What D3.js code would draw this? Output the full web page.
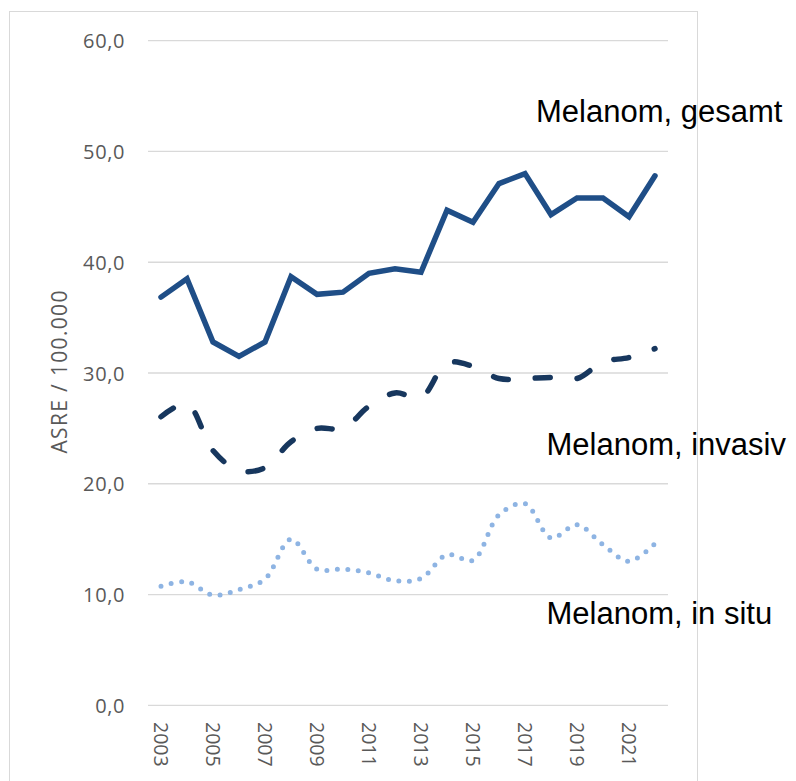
<!DOCTYPE html>
<html><head><meta charset="utf-8">
<script src="https://cdn.jsdelivr.net/npm/d3@7"></script>
<style>body{margin:0;background:#fff}svg{display:block}</style>
</head><body><svg id="c" width="796" height="781"></svg>
<script>
const years = d3.range(2003, 2023).map(String);
const gesamt = [36.85,38.5,32.8,31.5,32.8,38.7,37.1,37.3,39.0,39.4,39.1,44.7,43.6,47.1,48.0,44.3,45.8,45.8,44.1,47.8];
const invasiv = [26.05,27.2,23.0,21.2,21.45,23.8,25.0,25.0,27.0,28.2,27.8,30.9,30.6,29.5,29.5,29.6,29.5,31.0,31.4,32.2];
const inSitu = [10.75,11.15,9.95,10.45,11.4,15.0,12.3,12.3,11.95,11.25,11.45,13.6,13.1,17.2,18.2,15.1,16.3,14.5,13.0,14.6];
const yTicks = [0,10,20,30,40,50,60];
const seriesNames = ["Melanom, gesamt","Melanom, invasiv","Melanom, in situ"];

const svg = d3.select("#c");
svg.append("rect").attr("x",9.5).attr("y",11.5).attr("width",688).attr("height",800)
  .attr("fill","none").attr("stroke","#D9D9D9").attr("stroke-width",1);

const x = d3.scaleBand().domain(years).range([148,668]);
const y = d3.scaleLinear().domain([0,60]).range([705.3,40.7]);
const cx = d => x(d) + x.bandwidth()/2;

svg.append("g").selectAll("line").data(yTicks).join("line")
  .attr("x1",148).attr("x2",668).attr("y1",d=>y(d)).attr("y2",d=>y(d))
  .attr("stroke","#D9D9D9").attr("stroke-width",1.3);

const fmt = d => d.toFixed(1).replace(".",",");
const yAxis = d3.axisLeft(y).tickValues(yTicks).tickFormat(fmt).tickSize(0).tickPadding(0);
const gy = svg.append("g").attr("transform","translate(125,0)").call(yAxis);
gy.select(".domain").remove();
gy.selectAll("text").attr("font-family","'Open Sans', sans-serif").attr("font-size",20)
  .attr("letter-spacing",0.6).attr("fill","#595959").attr("dy","0.36em");

const xAxis = d3.axisBottom(x).tickValues(years.filter((d,i)=>i%2===0)).tickSize(0).tickPadding(0);
const gx = svg.append("g").attr("transform","translate(0,716)").call(xAxis);
gx.select(".domain").remove();
gx.selectAll("text").attr("font-family","'Open Sans', sans-serif").attr("font-size",19.5).attr("fill","#595959")
  .attr("transform","rotate(90)").attr("text-anchor","start").attr("x",6).attr("y",0).attr("dy","0.36em");

svg.append("text").attr("transform","translate(59,372) rotate(-90)").attr("text-anchor","middle")
  .attr("dy","0.36em").attr("font-family","'Open Sans', sans-serif").attr("font-size",21).attr("fill","#595959")
  .attr("textLength",163).attr("lengthAdjust","spacing")
  .text("ASRE / 100.000");

const smooth = d3.line().x((d,i)=>cx(years[i])).y(d=>y(d)).curve(d3.curveCatmullRom.alpha(0.5));
const straight = d3.line().x((d,i)=>cx(years[i])).y(d=>y(d));

svg.append("path").attr("d",smooth(inSitu)).attr("fill","none").attr("stroke","#8EB4E3")
  .attr("stroke-width",5).attr("stroke-linecap","round").attr("stroke-dasharray","0,10.5");
svg.append("path").attr("d",smooth(invasiv)).attr("fill","none").attr("stroke","#17375E")
  .attr("stroke-width",5.5).attr("stroke-linecap","round").attr("stroke-dasharray","15,27");
svg.append("path").attr("d",straight(gesamt)).attr("fill","none").attr("stroke","#1F4E87")
  .attr("stroke-width",5.5).attr("stroke-linejoin","miter").attr("stroke-linecap","round");

const labs = [{t:seriesNames[0],x:536,y:121.5},{t:seriesNames[1],x:546.5,y:455},{t:seriesNames[2],x:546.5,y:624}];
svg.append("g").selectAll("text").data(labs).join("text")
  .attr("x",d=>d.x).attr("y",d=>d.y).attr("font-family","'Liberation Sans', Arial, sans-serif")
  .attr("font-size",31).attr("fill","#000").text(d=>d.t);
</script></body></html>
